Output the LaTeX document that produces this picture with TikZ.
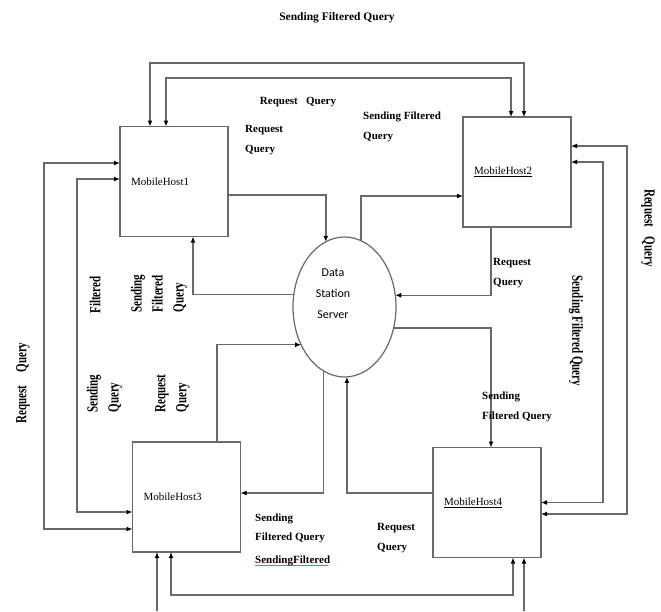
\documentclass[tikz,border=0pt]{standalone}
\usepackage{fontspec}
\setmainfont{Liberation Serif}
\newfontfamily\dsfont{Carlito}
\usetikzlibrary{arrows.meta,shapes.geometric}
\definecolor{linec}{RGB}{105,105,105}
\tikzset{
  conn/.style={draw=linec, line width=1.4pt, -{Latex[length=6pt,width=5pt,black]}},
  both/.style={draw=linec, line width=1.4pt, {Latex[length=6pt,width=5pt,black]}-{Latex[length=6pt,width=5pt,black]}},
  hostbox/.style={draw=linec, line width=1.4pt, minimum width=108pt, minimum height=110pt, inner sep=0pt, outer sep=0pt, text width=86pt, align=left, font=\fontsize{11}{13}\selectfont},
  lbl/.style={inner sep=0pt, align=left, font=\bfseries\fontsize{11}{20}\selectfont},
  rlbl/.style={inner sep=0pt, align=left, font=\bfseries\fontsize{11}{15}\selectfont, xscale=1.4},
}
\begin{document}
\begin{tikzpicture}[x=1pt,y=-1pt]
\useasboundingbox (0,0) rectangle (661,611);
% nodes
\node[hostbox] (mh1) at (174,181.5) {MobileHost1};
\node[hostbox] (mh2) at (517,172) {\underline{MobileHost2}};
\node[hostbox] (mh3) at (186.5,497) {MobileHost3};
\node[hostbox] (mh4) at (487,502.5) {\underline{MobileHost4}};
\node[draw=linec, line width=1.2pt, ellipse, minimum width=103pt, minimum height=140pt, inner sep=0pt, outer sep=0pt] (ds) at (344.5,307) {};
\node[inner sep=0pt, align=center, font=\dsfont\fontsize{12}{21}\selectfont] (dstext) at (333,294) {Data\\Station\\Server};
% rails
\coordinate (railTo) at (300,63);
\coordinate (railTi) at (300,78);
\coordinate (railLo) at (44,350);
\coordinate (railLi) at (77,350);
\coordinate (railRo) at (627,330);
\coordinate (railRi) at (603,330);
\coordinate (railBi) at (340,595);
\coordinate (bo3) at (157,611);
\coordinate (bo4) at (524,611);
% host to host links
\draw[both] ([xshift=-24pt]mh1.north) |- (railTo) -| ([xshift=7pt]mh2.north);
\draw[both] ([xshift=-8pt]mh1.north) |- (railTi) -| ([xshift=-6pt]mh2.north);
\draw[both] ([yshift=18.5pt]mh1.west) -| (railLo) |- ([yshift=-32pt]mh3.west);
\draw[both] ([yshift=2.5pt]mh1.west) -| (railLi) |- ([yshift=-15pt]mh3.west);
\draw[both] ([yshift=26pt]mh2.east) -| (railRo) |- ([yshift=-11.5pt]mh4.east);
\draw[both] ([yshift=10pt]mh2.east) -| (railRi) |- ([yshift=0pt]mh4.east);
\draw[both] ([xshift=-15.5pt]mh3.south) |- (railBi) -| ([xshift=26pt]mh4.south);
\draw[conn] (bo3) -- ([xshift=-29.5pt]mh3.south);
\draw[conn] (bo4) -- ([xshift=37pt]mh4.south);
% server links
\draw[conn] ([yshift=-13.5pt]mh1.east) -| (ds.106.7);
\draw[conn] (ds.76) |- ([yshift=-24pt]mh2.west);
\draw[conn] ([xshift=-26pt]mh2.south) |- (ds.13.3);
\draw[conn] (ds.-23.2) -| ([xshift=4pt]mh4.north);
\draw[conn] ([yshift=9.5pt]mh4.west) -| (ds.-88);
\draw[conn] (ds.252.3) |- ([yshift=4pt]mh3.east);
\draw[conn] ([xshift=30.5pt]mh3.north) |- (ds.221.3);
\draw[conn] (ds.166.7) -| ([xshift=19pt]mh1.south);
% labels
\node[lbl, font=\bfseries\fontsize{11.5}{14}\selectfont] (title) at (337,18) {Sending Filtered Query};
\node[lbl] (l1) at (298,102) {Request\ \ \ Query};
\node[lbl, anchor=west] (l2) at (245,140) {Request\\Query};
\node[lbl, anchor=west] (l3) at (363,127) {Sending Filtered\\Query};
\node[lbl, anchor=west] (l4) at (493,273) {Request\\Query};
\node[lbl, anchor=west] (l5) at (482,406.5) {Sending\\Filtered Query};
\node[lbl, anchor=west] (l6) at (377,538) {Request\\Query};
\node[lbl, anchor=west, font=\bfseries\fontsize{11}{19}\selectfont] (l7) at (255,540) {Sending\\Filtered Query\\[4pt]\rlap{\color{red!70}\rule[-2.5pt]{73pt}{0.6pt}}SendingFiltered};
% rotated labels
\node[rlbl, rotate=90] (r1) at (23,383) {Request\hspace{13pt}Query};
\node[rlbl, rotate=90] (r2) at (95,295) {Filtered};
\node[rlbl, rotate=90] (r3) at (159,293.5) {Sending\\Filtered\\Query};
\node[rlbl, rotate=90] (r4) at (104.5,393.5) {Sending\\Query};
\node[rlbl, rotate=90] (r5) at (172.5,393.5) {Request\\Query};
\node[rlbl, rotate=-90] (r6) at (648,228) {Request\hspace{10pt}Query};
\node[rlbl, rotate=-90] (r7) at (576,331) {Sending Filtered Query};
\end{tikzpicture}
\end{document}
